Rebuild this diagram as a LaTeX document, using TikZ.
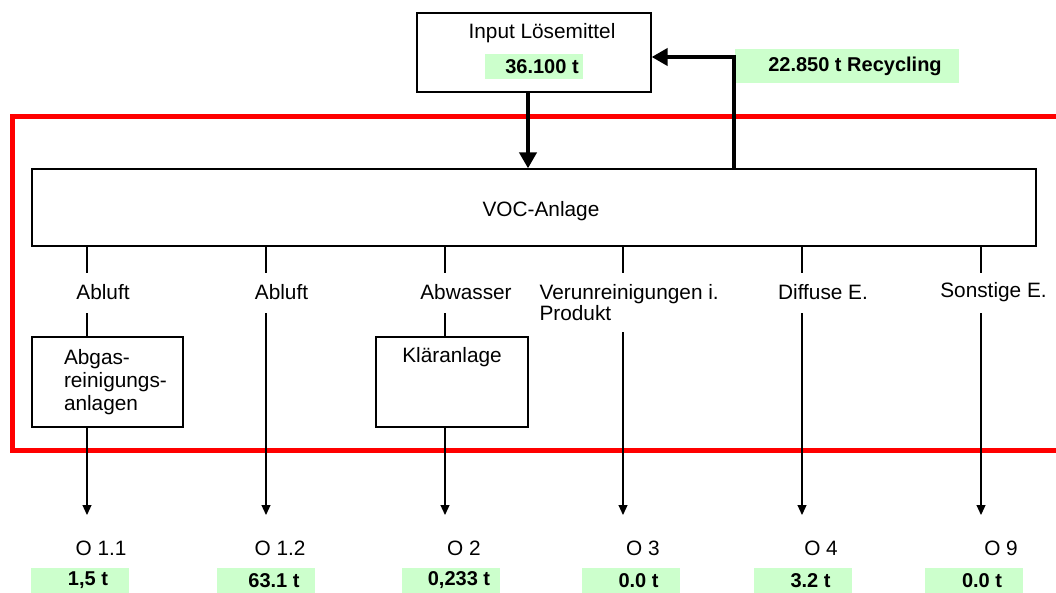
\documentclass[tikz,border=0pt]{standalone}
\usepackage{fontspec}
\setmainfont{Liberation Sans}
\definecolor{valgreen}{RGB}{204,255,204}
\definecolor{framered}{RGB}{255,0,0}
\usetikzlibrary{arrows.meta,positioning}

\begin{document}
\begin{tikzpicture}[x=1pt, y=-1pt, font=\fontsize{20.8}{23}\selectfont,
  box/.style={draw, line width=1.3pt, inner sep=0pt},
  val/.style={fill=valgreen, inner sep=0pt, minimum width=98, minimum height=25,
    font=\fontsize{20}{23}\selectfont\bfseries, execute at begin node={\hspace*{16pt}}},
  leitung/.style={line width=1.2pt},
  flow/.style={leitung, -{Triangle[length=10pt,width=9pt]}},
  bigflow/.style={line width=4.5pt, -{Triangle[length=16pt,width=17pt]}}]
  \useasboundingbox (0,0) rectangle (1056,593);

  % Input
  \node[box, minimum width=234, minimum height=79] (input) at (534,52.5) {};
  \node (inputtitle) at (542,33) {Input Lösemittel};
  \node[val] (inputval) at (534,66.5) {36.100 t};
  \node[val, minimum width=224, minimum height=34, execute at begin node={}] (recycling) at (847,66) {22.850 t Recycling};

  % Bilanzgrenze
  \draw[framered, line width=5pt] (1056,117) -- (12,117) -- (12,450) -- (1056,450);

  % Anlage
  \node[box, minimum width=1004, minimum height=77, text height=22,
    execute at begin node={\hspace*{14pt}}] (voc) at (534,207.5) {VOC-Anlage};
  \coordinate (einlass) at (528,0);
  \coordinate (rueck) at (734,57);
  \draw[bigflow] (input.south -| einlass) -- (voc.north -| einlass);
  \draw[bigflow] (voc.north -| rueck) -- (rueck) -- (input.east |- rueck);

  % Pfade
  \foreach \x/\y [count=\i] in {87/313,266/313,445/313,623/332,802/313,981/313} {
    \coordinate (ab\i) at (\x,246);
    \coordinate (vor\i) at (\x,273);
    \coordinate (nach\i) at (\x,\y);
    \coordinate (ziel\i) at (\x,515);
  }
  \node (abluft1) at (103,292) {Abluft};
  \node (abluft2) at (281.5,292) {Abluft};
  \node (abwasser) at (466,292) {Abwasser};
  \node[align=left, anchor=west, font=\fontsize{20.8}{21}\selectfont] (verunr) at (536,302.5) {Verunreinigungen i.\\Produkt};
  \node (diffus) at (823,292) {Diffuse E.};
  \node (sonstige) at (993.5,292) {Sonstige E.};

  \node[box, minimum width=151, minimum height=90, text width=125, align=left,
    execute at begin node={\leftskip=19pt}] (abgas) at (107.5,382) {Abgas-\\reinigungs-\\anlagen};
  \node[box, minimum width=152, text height=25, text depth=65] (klaer) at (452,382) {Kläranlage};

  \foreach \i in {1,...,6} \draw[leitung] (ab\i) -- (vor\i);
  \draw[leitung] (nach1) -- (nach1 |- abgas.north);
  \draw[flow] (abgas.south -| nach1) -- (ziel1);
  \draw[flow] (nach2) -- (ziel2);
  \draw[leitung] (nach3) -- (nach3 |- klaer.north);
  \draw[flow] (klaer.south -| nach3) -- (ziel3);
  \draw[flow] (nach4) -- (ziel4);
  \draw[flow] (nach5) -- (ziel5);
  \draw[flow] (nach6) -- (ziel6);

  % Outputs
  \node (o11) at (101,548) {O 1.1};
  \node (o12) at (280,548) {O 1.2};
  \node (o2) at (464,548) {O 2};
  \node (o3) at (643,548) {O 3};
  \node (o4) at (821,548) {O 4};
  \node (o9) at (1001,548) {O 9};
  \node[val] (v11) at (80,580.5) {1,5 t};
  \node[val] (v12) at (266,580.5) {63.1 t};
  \node[val] (v2) at (451,580.5) {0,233 t};
  \node[val] (v3) at (630.5,580.5) {0.0 t};
  \node[val] (v4) at (802.5,580.5) {3.2 t};
  \node[val] (v9) at (974,580.5) {0.0 t};
\end{tikzpicture}
\end{document}
